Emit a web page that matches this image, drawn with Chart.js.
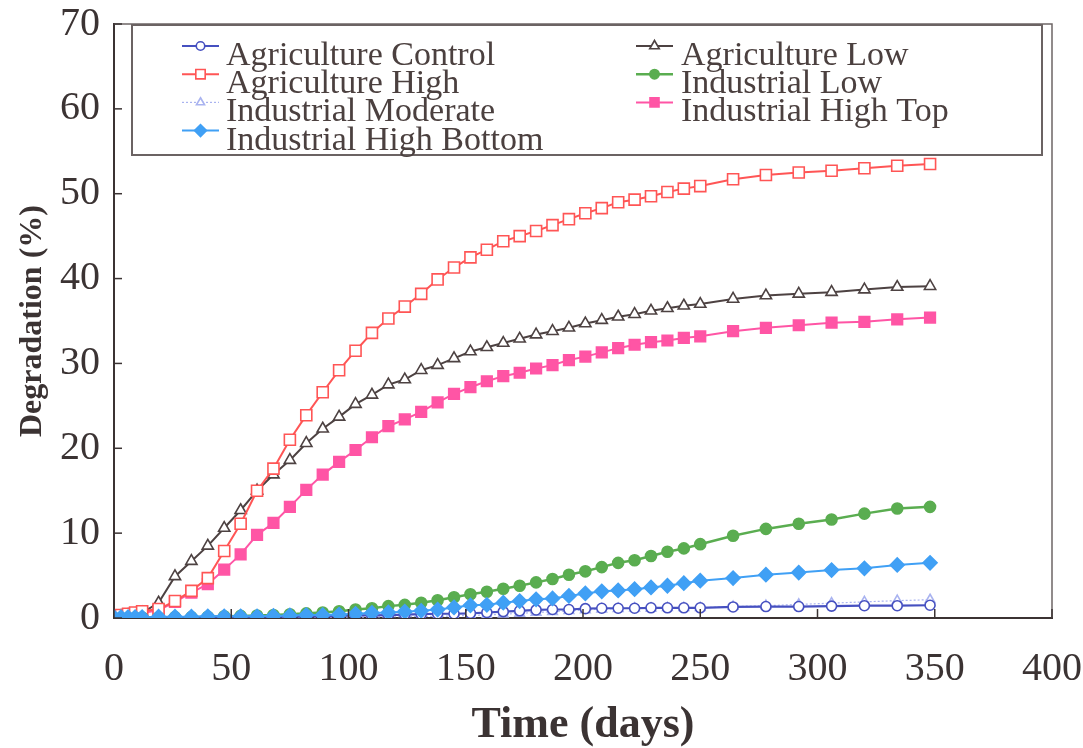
<!DOCTYPE html>
<html><head><meta charset="utf-8">
<script src="https://cdn.jsdelivr.net/npm/chart.js@4.4.0/dist/chart.umd.min.js"></script>
<style>html,body{margin:0;padding:0;background:#fff;}#wrap{width:1083px;height:748px;}</style>
</head><body><div id="wrap"><canvas id="c" width="1083" height="748"></canvas></div>
<script>
const days = [0,3,6,9,12,19,26,33,40,47,54,61,68,75,82,89,96,103,110,117,124,131,138,145,152,159,166,173,180,187,194,201,208,215,222,229,236,243,250,264,278,292,306,320,334,348];

const agricultureControl = [0.0,0.0,0.05,0.05,0.05, 0.05,0.1,0.1,0.1,0.1,0.1,0.15,0.15,0.15,0.2, 0.2,0.25,0.3,0.3,0.35,0.4,0.45,0.5,0.5,0.55, 0.65,0.75,0.85,0.95,1.0,1.0,1.1,1.15,1.15,1.15, 1.2,1.2,1.2,1.2, 1.3,1.35,1.35,1.4,1.45,1.45,1.5];
const agricultureLow = [0.1,0.2,0.3,0.4,0.6, 1.8,4.9,6.7,8.5,10.6,12.7,15.0,16.9,18.6,20.6, 22.3,23.7,25.2,26.3,27.5,28.1,29.2,29.8,30.6,31.4, 31.9,32.4,32.9,33.4,33.8,34.2,34.7,35.1,35.5,35.8, 36.2,36.5,36.8,37.0, 37.6,38.0,38.2,38.4,38.7,39.0,39.1];
const agricultureHigh = [0.2,0.35,0.5,0.65,0.8, 1.05,2.0,3.2,4.7,7.9,11.1,15.0,17.6,21.0,23.9, 26.6,29.2,31.5,33.6,35.3,36.7,38.2,39.9,41.3,42.5, 43.4,44.4,45.0,45.6,46.3,47.0,47.7,48.3,49.0,49.3, 49.7,50.2,50.6,50.9, 51.7,52.2,52.5,52.7,53.0,53.3,53.5];
const industrialLow = [0.0,0.0,0.0,0.0,0.05, 0.05,0.1,0.1,0.15,0.2,0.25,0.3,0.35,0.45,0.55, 0.65,0.8,1.0,1.15,1.4,1.55,1.8,2.1,2.45,2.8, 3.1,3.45,3.8,4.2,4.6,5.1,5.5,6.0,6.5,6.8, 7.3,7.8,8.2,8.7, 9.7,10.5,11.1,11.6,12.3,12.9,13.1];
const industrialModerate = [0.0,0.0,0.0,0.0,0.0, 0.0,0.05,0.05,0.05,0.05,0.05,0.05,0.05,0.1,0.1, 0.1,0.1,0.1,0.1,0.15,0.15,0.2,0.2,0.25,0.3, 0.35,0.45,0.55,0.65,0.75,0.85,0.95,1.05,1.1,1.15, 1.15,1.2,1.2,1.2, 1.35,1.45,1.6,1.75,1.9,2.05,2.15];
const industrialHighTop = [0.2,0.3,0.4,0.5,0.6, 0.9,1.9,3.0,4.0,5.7,7.5,9.8,11.2,13.1,15.1, 16.9,18.4,19.8,21.3,22.6,23.4,24.3,25.4,26.4,27.2, 27.9,28.5,28.9,29.4,29.8,30.4,30.8,31.3,31.8,32.2, 32.5,32.7,33.0,33.2, 33.8,34.2,34.5,34.8,34.9,35.2,35.4];
const industrialHighBottom = [0.1,0.1,0.1,0.1,0.1, 0.15,0.15,0.15,0.2,0.2,0.2,0.2,0.25,0.3,0.35, 0.35,0.4,0.5,0.6,0.65,0.75,0.85,1.0,1.25,1.5, 1.55,1.8,2.0,2.2,2.3,2.6,2.9,3.15,3.25,3.4, 3.6,3.8,4.1,4.4, 4.7,5.1,5.35,5.65,5.85,6.25,6.5];

const seriesLabels = ['Agriculture Control','Agriculture Low','Agriculture High','Industrial Low','Industrial Moderate','Industrial High Top','Industrial High Bottom'];
const xTickValues = [0,50,100,150,200,250,300,350,400];
const yTickValues = [0,10,20,30,40,50,60,70];

const seriesValues = [agricultureControl, agricultureLow, agricultureHigh, industrialLow, industrialModerate, industrialHighTop, industrialHighBottom];
const styles = [
  {color:'#4650c0', fill:'#ffffff', pointStyle:'circle',   radius:5,   lineWidth:2.2, dash:[],    order:2},
  {color:'#4d4242', fill:'#ffffff', pointStyle:'triangle', radius:6.5, lineWidth:2,   dash:[],    order:5},
  {color:'#ff5555', fill:'#ffffff', pointStyle:'rect',     radius:7.8, lineWidth:2,   dash:[],    order:4},
  {color:'#5aad50', fill:'#5aad50', pointStyle:'circle',   radius:5.5, lineWidth:2.5, dash:[],    order:3},
  {color:'#a9b3f0', fill:'#ffffff', pointStyle:'triangle', radius:5.5, lineWidth:1.2, dash:[2,2], order:6},
  {color:'#ff55a5', fill:'#ff55a5', pointStyle:'rect',     radius:7.5, lineWidth:2,   dash:[],    order:7},
  {color:'#40a0f5', fill:'#40a0f5', pointStyle:'rectRot',  radius:7,   lineWidth:2,   dash:[],    order:1}
];

const datasets = seriesLabels.map((label, i) => ({
  label,
  data: days.map((d, k) => ({x: d, y: seriesValues[i][k]})),
  borderColor: styles[i].color,
  backgroundColor: styles[i].fill,
  pointBorderColor: styles[i].color,
  pointBackgroundColor: styles[i].fill,
  pointStyle: styles[i].pointStyle,
  pointRadius: styles[i].radius,
  pointBorderWidth: 1.6,
  borderWidth: styles[i].lineWidth,
  borderDash: styles[i].dash,
  order: styles[i].order,
  tension: 0,
  fill: false
}));

const textColor = '#3b3333';
const serif = '"Liberation Serif", "Times New Roman", serif';

const framePlugin = {
  id: 'frame',
  afterDraw(chart) {
    const {ctx, chartArea: a, scales: {x, y}} = chart;
    ctx.save();
    ctx.strokeStyle = '#6e6666'; ctx.lineWidth = 1.5;
    ctx.beginPath(); ctx.moveTo(a.left, a.top); ctx.lineTo(a.right, a.top); ctx.lineTo(a.right, a.bottom); ctx.stroke();
    ctx.strokeStyle = textColor; ctx.lineWidth = 1.5;
    x.ticks.forEach(t => { const px = x.getPixelForValue(t.value); ctx.beginPath(); ctx.moveTo(px, a.bottom); ctx.lineTo(px, a.bottom - 9); ctx.stroke(); });
    y.ticks.forEach(t => { const py = y.getPixelForValue(t.value); ctx.beginPath(); ctx.moveTo(a.left, py); ctx.lineTo(a.left + 8, py); ctx.stroke(); });
    // legend box
    ctx.strokeStyle = '#6b6363'; ctx.lineWidth = 2;
    ctx.strokeRect(132, 25, 910, 130);
    ctx.font = '34px ' + serif;
    ctx.textBaseline = 'alphabetic';
    chart.data.datasets.forEach((ds, i) => {
      const col = i % 2, row = Math.floor(i / 2);
      const sx = col === 0 ? 182 : 636;
      const tx = col === 0 ? 226 : 681;
      const base = 65 + 28.2 * row;
      const sy = base - 19;
      ctx.save();
      ctx.strokeStyle = ds.borderColor; ctx.lineWidth = ds.borderWidth;
      ctx.setLineDash(ds.borderDash || []);
      ctx.beginPath(); ctx.moveTo(sx, sy); ctx.lineTo(sx + 37, sy); ctx.stroke();
      ctx.setLineDash([]);
      ctx.fillStyle = ds.pointBackgroundColor; ctx.strokeStyle = ds.pointBorderColor; ctx.lineWidth = 1.6;
      Chart.helpers.drawPoint(ctx, {pointStyle: ds.pointStyle, radius: ds.pointRadius * 0.85, rotation: 0, borderWidth: 1.6}, sx + 18.5, sy);
      ctx.restore();
      ctx.fillStyle = '#4b403f';
      ctx.fillText(ds.label, tx, base);
    });
    ctx.restore();
  }
};

new Chart(document.getElementById('c'), {
  type: 'line',
  data: {datasets},
  options: {
    responsive: false,
    animation: false,
    devicePixelRatio: 1,
    layout: {padding: {left: 0, right: 31, top: 24, bottom: 0}},
    plugins: {legend: {display: false}, tooltip: {enabled: false}},
    scales: {
      x: {
        type: 'linear', min: 0, max: 400,
        afterBuildTicks: s => { s.ticks = xTickValues.map(v => ({value: v})); },
        afterFit: s => { s.height = 130; s.paddingLeft = 0; s.paddingRight = 0; },
        grid: {display: false, drawTicks: false},
        border: {display: true, color: textColor, width: 2},
        ticks: {color: textColor, font: {family: serif, size: 40}, padding: 27, maxRotation: 0, autoSkip: false},
        title: {display: true, text: 'Time (days)', color: textColor, font: {family: serif, size: 44, weight: 'bold', lineHeight: 1.0}, padding: {top: 0, bottom: 0}}
      },
      y: {
        type: 'linear', min: 0, max: 70,
        afterBuildTicks: s => { s.ticks = yTickValues.map(v => ({value: v})); },
        afterFit: s => { s.width = 114; s.paddingTop = 0; s.paddingBottom = 0; },
        grid: {display: false, drawTicks: false},
        border: {display: true, color: textColor, width: 2},
        ticks: {color: textColor, font: {family: serif, size: 40}, padding: 14, autoSkip: false},
        title: {display: true, text: 'Degradation (%)', color: textColor, font: {family: serif, size: 32, weight: 'bold', lineHeight: 1.2}, padding: {top: 14, bottom: 0}}
      }
    }
  },
  plugins: [framePlugin]
});
</script></body></html>
